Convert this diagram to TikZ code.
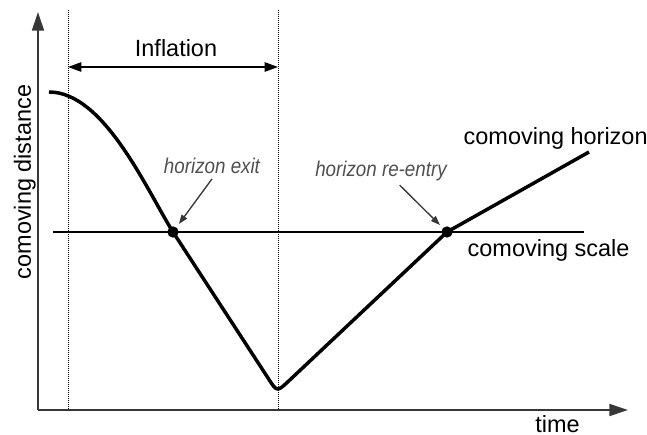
\documentclass[tikz,border=0pt]{standalone}
\usepackage{fontspec}
\setmainfont{Liberation Sans}
\usetikzlibrary{arrows.meta}
\definecolor{axisgray}{RGB}{55,55,55}
\definecolor{notegray}{RGB}{80,80,80}

\begin{document}
\begin{tikzpicture}[x=0.75pt, y=-0.75pt,
  axis/.style={axisgray, line width=1.3pt, -{Triangle[length=14pt, width=9pt]}},
  guide/.style={line width=0.7pt, dash pattern=on 0.75pt off 0.75pt},
  span/.style={line width=1.2pt, {Triangle[length=10pt, width=7pt]}-{Triangle[length=10pt, width=7pt]}},
  curve/.style={line width=2.6pt, line join=round},
  scaleline/.style={line width=2.2pt},
  dot/.style={circle, fill, inner sep=0pt, minimum size=8.5pt},
  note/.style={notegray, font=\fontsize{16}{19}\selectfont\itshape},
  pointer/.style={axisgray, line width=1pt, -{Triangle[length=7pt, width=5pt]}, shorten >=3pt},
  lbl/.style={font=\fontsize{17.6}{21}\selectfont}]
  \useasboundingbox (0,0) rectangle (647,435);
  \clip (0,0) rectangle (647,435);
  % axes
  \coordinate (O) at (38,410);
  \draw[axis] (O) -- (38,12);
  \draw[axis] (O) -- (628,410);
  \node[lbl, inner sep=0pt, anchor=base west] (time) at (535,432) {time};
  \node[lbl, rotate=90, anchor=base] (dist) at (31,182) {comoving distance};
  % inflation epoch
  \draw[guide] (68,10) -- (68,410);
  \draw[guide] (278,10) -- (278,410);
  \draw[span] (68,67) -- (278,67);
  \node[lbl, anchor=base] (infl) at (176,57) {Inflation};
  % comoving scale
  \draw[scaleline] (53,232) -- (584,232);
  \node[lbl, anchor=base west] (scale) at (463,257) {comoving scale};
  % comoving horizon
  \draw[curve] (49,92) .. controls (104,92) and (146.5,189.6) .. (173,232)
    -- (268.4,378.6) .. controls (277,392) .. (288.6,381.1)
    -- (447,232) -- (589,152);
  \node[lbl, anchor=base west] (horizon) at (459,145) {comoving horizon};
  % crossings
  \node[dot] (exit) at (173,232) {};
  \node[dot] (reentry) at (447,232) {};
  \node[note, anchor=base] (exitlbl) at (212,174) {\scalebox{0.88}[1]{horizon exit}};
  \node[note, anchor=base] (reentrylbl) at (381,176) {\scalebox{0.88}[1]{horizon re-entry}};
  \draw[pointer] (exitlbl.south) -- (exit);
  \draw[pointer] ([xshift=14pt]reentrylbl.south) -- (reentry);
\end{tikzpicture}
\end{document}
